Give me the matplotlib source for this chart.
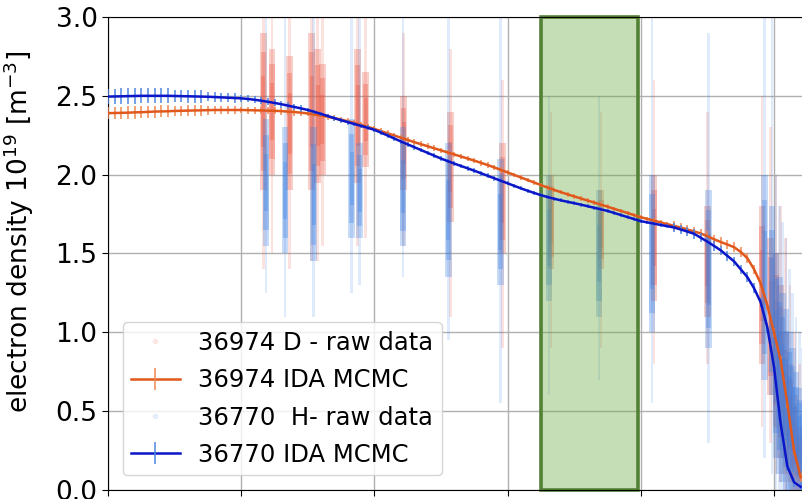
import matplotlib
matplotlib.use("Agg")
import matplotlib.pyplot as plt
from matplotlib.lines import Line2D
from matplotlib.patches import Rectangle
import numpy as np

# ---- fitted profiles (IDA MCMC) on the rho grid ----
rho = [0.00, 0.01, 0.02, 0.03, 0.04, 0.05, 0.06, 0.07, 0.08, 0.09,
       0.10, 0.11, 0.12, 0.13, 0.14, 0.15, 0.16, 0.17, 0.18, 0.19,
       0.20, 0.21, 0.22, 0.23, 0.24, 0.25, 0.26, 0.27, 0.28, 0.29,
       0.30, 0.31, 0.32, 0.33, 0.34, 0.35, 0.36, 0.37, 0.38, 0.39,
       0.40, 0.41, 0.42, 0.43, 0.44, 0.45, 0.46, 0.47, 0.48, 0.49,
       0.50, 0.51, 0.52, 0.53, 0.54, 0.55, 0.56, 0.57, 0.58, 0.59,
       0.60, 0.61, 0.62, 0.63, 0.64, 0.65, 0.66, 0.67, 0.68, 0.69,
       0.70, 0.71, 0.72, 0.73, 0.74, 0.75, 0.76, 0.77, 0.78, 0.79,
       0.80, 0.81, 0.82, 0.83, 0.84, 0.85, 0.86, 0.87, 0.88, 0.89,
       0.90, 0.91, 0.92, 0.93, 0.94, 0.95, 0.96, 0.97, 0.98, 0.99,
       1.00, 1.01, 1.02, 1.03, 1.04]

ne_36974 = [2.390, 2.391, 2.392, 2.393, 2.395, 2.396, 2.398, 2.400, 2.401, 2.402,
            2.404, 2.405, 2.406, 2.407, 2.408, 2.409, 2.410, 2.410, 2.410, 2.410,
            2.410, 2.409, 2.408, 2.407, 2.406, 2.405, 2.403, 2.400, 2.397, 2.393,
            2.388, 2.382, 2.375, 2.367, 2.358, 2.349, 2.339, 2.328, 2.316, 2.303,
            2.290, 2.276, 2.262, 2.248, 2.234, 2.220, 2.206, 2.193, 2.180, 2.167,
            2.154, 2.141, 2.128, 2.115, 2.102, 2.089, 2.075, 2.061, 2.046, 2.030,
            2.014, 1.998, 1.982, 1.966, 1.950, 1.934, 1.918, 1.903, 1.889, 1.875,
            1.862, 1.849, 1.836, 1.823, 1.810, 1.797, 1.783, 1.770, 1.757, 1.743,
            1.730, 1.719, 1.708, 1.697, 1.686, 1.675, 1.665, 1.652, 1.640, 1.627,
            1.610, 1.590, 1.573, 1.557, 1.540, 1.510, 1.470, 1.400, 1.310, 1.170,
            1.000, 0.820, 0.550, 0.250, 0.080]

err_36974 = [0.040, 0.040, 0.040, 0.040, 0.040, 0.038, 0.038, 0.038, 0.038, 0.038,
             0.033, 0.033, 0.033, 0.033, 0.033, 0.028, 0.028, 0.028, 0.028, 0.028,
             0.022, 0.022, 0.022, 0.022, 0.022, 0.022, 0.022, 0.022, 0.022, 0.022,
             0.018, 0.018, 0.018, 0.018, 0.018, 0.018, 0.018, 0.018, 0.018, 0.018,
             0.018, 0.018, 0.018, 0.018, 0.018, 0.018, 0.018, 0.018, 0.018, 0.018,
             0.018, 0.018, 0.018, 0.018, 0.018, 0.018, 0.018, 0.018, 0.018, 0.018,
             0.014, 0.014, 0.014, 0.014, 0.014, 0.014, 0.014, 0.014, 0.014, 0.014,
             0.014, 0.014, 0.014, 0.014, 0.014, 0.014, 0.014, 0.014, 0.014, 0.014,
             0.014, 0.014, 0.014, 0.014, 0.014, 0.030, 0.030, 0.030, 0.030, 0.030,
             0.030, 0.030, 0.030, 0.030, 0.030, 0.030, 0.030, 0.030, 0.030, 0.030,
             0.030, 0.030, 0.030, 0.030, 0.030]

ne_36770 = [2.495, 2.496, 2.497, 2.498, 2.499, 2.500, 2.500, 2.500, 2.500, 2.500,
            2.499, 2.498, 2.497, 2.496, 2.495, 2.494, 2.492, 2.490, 2.488, 2.486,
            2.484, 2.480, 2.475, 2.469, 2.462, 2.455, 2.447, 2.438, 2.429, 2.420,
            2.410, 2.398, 2.385, 2.372, 2.358, 2.345, 2.333, 2.321, 2.309, 2.297,
            2.284, 2.266, 2.248, 2.229, 2.210, 2.192, 2.174, 2.156, 2.138, 2.120,
            2.102, 2.086, 2.070, 2.055, 2.040, 2.025, 2.009, 1.993, 1.977, 1.961,
            1.945, 1.929, 1.913, 1.898, 1.884, 1.870, 1.858, 1.847, 1.837, 1.828,
            1.819, 1.810, 1.800, 1.790, 1.780, 1.770, 1.757, 1.744, 1.731, 1.718,
            1.705, 1.697, 1.689, 1.681, 1.673, 1.665, 1.652, 1.639, 1.625, 1.600,
            1.575, 1.548, 1.520, 1.485, 1.450, 1.400, 1.350, 1.280, 1.190, 1.030,
            0.780, 0.420, 0.150, 0.050, 0.020]

err_36770 = [0.050, 0.050, 0.050, 0.050, 0.050, 0.048, 0.048, 0.048, 0.048, 0.048,
             0.040, 0.040, 0.040, 0.040, 0.040, 0.030, 0.030, 0.030, 0.030, 0.030,
             0.022, 0.022, 0.022, 0.022, 0.022, 0.022, 0.022, 0.022, 0.022, 0.022,
             0.015, 0.015, 0.015, 0.015, 0.015, 0.015, 0.015, 0.015, 0.015, 0.015,
             0.015, 0.015, 0.015, 0.015, 0.015, 0.015, 0.015, 0.015, 0.015, 0.015,
             0.015, 0.015, 0.015, 0.015, 0.015, 0.015, 0.015, 0.015, 0.015, 0.015,
             0.012, 0.012, 0.012, 0.012, 0.012, 0.012, 0.012, 0.012, 0.012, 0.012,
             0.012, 0.012, 0.012, 0.012, 0.012, 0.012, 0.012, 0.012, 0.012, 0.012,
             0.012, 0.012, 0.012, 0.012, 0.012, 0.030, 0.030, 0.030, 0.030, 0.030,
             0.030, 0.030, 0.030, 0.030, 0.030, 0.030, 0.030, 0.030, 0.030, 0.030,
             0.030, 0.030, 0.030, 0.030, 0.030]

# ---- raw data per diagnostic channel: full spread and dense core ----
d_chan = [0.233, 0.246, 0.273, 0.306, 0.315, 0.322, 0.375, 0.387, 0.444,
          0.514, 0.592, 0.665, 0.740, 0.820, 0.900, 0.982, 0.995,
          1.003, 1.010, 1.017, 1.024, 1.031, 1.038]
d_lo = [1.40, 1.50, 1.40, 1.45, 1.45, 1.55, 1.55, 1.60, 1.55,
        1.10, 0.90, 0.90, 0.90, 0.80, 0.80, 0.40, 0.30,
        0.10, 0.05, 0.00, 0.00, 0.00, 0.00]
d_hi = [3.00, 3.00, 3.00, 3.00, 3.00, 3.00, 3.00, 3.00, 2.90,
        2.80, 2.60, 2.40, 2.40, 2.60, 2.40, 2.50, 2.30,
        2.00, 1.80, 1.60, 1.30, 1.00, 0.80]
d_core_lo = [1.90, 2.00, 1.90, 1.90, 1.95, 2.00, 1.95, 2.05, 1.90,
             1.70, 1.50, 1.40, 1.40, 1.20, 1.10, 0.80, 0.60,
             0.40, 0.20, 0.10, 0.05, 0.00, 0.00]
d_core_hi = [2.90, 2.80, 2.75, 2.90, 2.80, 2.70, 2.80, 2.65, 2.50,
             2.40, 2.20, 2.00, 1.90, 2.00, 1.80, 1.80, 1.60,
             1.50, 1.30, 1.00, 0.80, 0.60, 0.40]

h_chan = [0.237, 0.266, 0.309, 0.366, 0.378, 0.443, 0.511, 0.589,
          0.662, 0.737, 0.817, 0.902, 0.986, 0.997,
          1.003, 1.008, 1.013, 1.018, 1.023, 1.028, 1.033, 1.038, 1.043]
h_lo = [1.25, 1.10, 1.10, 1.25, 1.30, 1.35, 0.95, 0.55,
        0.60, 0.70, 0.55, 0.30, 0.20, 0.10,
        0.00, 0.00, 0.00, 0.00, 0.00, 0.00, 0.00, 0.00, 0.00]
h_hi = [3.00, 3.00, 3.00, 3.00, 3.00, 3.00, 3.00, 3.00,
        2.50, 2.50, 3.00, 2.90, 3.00, 3.00,
        2.00, 1.80, 1.70, 1.60, 1.40, 1.25, 1.10, 1.00, 0.90]
h_core_lo = [1.55, 1.50, 1.45, 1.60, 1.60, 1.55, 1.35, 1.30,
             1.20, 1.10, 1.00, 0.90, 0.70, 0.60,
             0.20, 0.10, 0.05, 0.00, 0.00, 0.00, 0.00, 0.00, 0.00]
h_core_hi = [2.35, 2.30, 2.30, 2.35, 2.20, 2.30, 2.20, 2.10,
             2.00, 1.90, 2.00, 1.90, 2.00, 1.80,
             1.50, 1.35, 1.25, 1.15, 1.00, 0.90, 0.75, 0.65, 0.55]

# highlighted rho interval
band_lo, band_hi = 0.650, 0.796

ORANGE = "#e0581c"
ORANGE_ERR = "#f0884f"
BLUE = "#0a16c8"
BLUE_ERR = "#4f86e0"
RED_RAW = "#e8503a"
BLUE_RAW = "#3a7ee0"

FS_AX = 19
FS_LEG = 17.5

fig = plt.figure(figsize=(8.03, 4.99), dpi=100)
ax = fig.add_axes([0.1345, 0.018, 0.8655, 0.948])


def draw_channels(xs, lo, hi, clo, chi, color):
    xs = np.asarray(xs)
    lo, hi, clo, chi = map(np.asarray, (lo, hi, clo, chi))
    # sparse outer spread
    ax.bar(xs, hi - lo, bottom=lo, width=0.004, color=color, alpha=0.16,
           linewidth=0, zorder=1)
    # dense core, drawn as nested layers so it tapers
    mid = (clo + chi) / 2.0
    half = (chi - clo) / 2.0
    for frac, w, a in ((1.0, 0.010, 0.28), (0.75, 0.008, 0.30),
                       (0.45, 0.006, 0.30)):
        ax.bar(xs, 2 * frac * half, bottom=mid - frac * half, width=w,
               color=color, alpha=a, linewidth=0, zorder=1)


draw_channels(d_chan, d_lo, d_hi, d_core_lo, d_core_hi, RED_RAW)
draw_channels(h_chan, h_lo, h_hi, h_core_lo, h_core_hi, BLUE_RAW)

# highlighted region
ax.axvspan(band_lo, band_hi, facecolor="#70ad47", alpha=0.4, linewidth=0,
           zorder=2)
ax.add_patch(Rectangle((band_lo, 0.0), band_hi - band_lo, 3.0,
                       fill=False, edgecolor="#538135", linewidth=2.6,
                       zorder=2.5, clip_on=False))

ax.errorbar(rho, ne_36974, yerr=err_36974, color=ORANGE, ecolor=ORANGE_ERR,
            elinewidth=1.1, linewidth=1.8, capsize=0, zorder=3)
ax.errorbar(rho, ne_36770, yerr=err_36770, color=BLUE, ecolor=BLUE_ERR,
            elinewidth=1.1, linewidth=1.8, capsize=0, zorder=3.1)

ax.set_xlim(0.0, 1.0435)
ax.set_ylim(0.0, 3.0)
ax.set_xticks([0.0, 0.2, 0.4, 0.6, 0.8, 1.0])
ax.set_xticklabels([])
ax.set_yticks([0.0, 0.5, 1.0, 1.5, 2.0, 2.5, 3.0])
ax.tick_params(axis="y", labelsize=FS_AX, length=4)
ax.tick_params(axis="x", length=4)
ax.grid(True, color="#b0b0b0", linewidth=1.0)
ax.set_axisbelow(True)
ax.spines["right"].set_visible(False)
ax.set_ylabel(r"electron density 10$^{19}$ [m$^{-3}$]", fontsize=FS_AX)
ax.yaxis.set_label_coords(-0.104, 0.545)

handles = [
    Line2D([], [], linestyle="none", marker="o", markersize=3,
           color=RED_RAW, alpha=0.1),
    Line2D([], [], color=ORANGE, linewidth=1.8, marker="|", markersize=16,
           markeredgecolor=ORANGE_ERR, markeredgewidth=1.1),
    Line2D([], [], linestyle="none", marker="o", markersize=3,
           color=BLUE_RAW, alpha=0.1),
    Line2D([], [], color=BLUE, linewidth=1.8, marker="|", markersize=16,
           markeredgecolor=BLUE_ERR, markeredgewidth=1.1),
]
labels = ["36974 D - raw data", "36974 IDA MCMC",
          "36770  H- raw data", "36770 IDA MCMC"]
leg = ax.legend(handles, labels, loc="lower left", fontsize=FS_LEG,
                bbox_to_anchor=(0.0, 0.0), borderaxespad=0.6,
                handlelength=2.0, handletextpad=0.75, labelspacing=0.55,
                borderpad=0.35, framealpha=0.8)
leg.set_zorder(5)

fig.savefig("out.png", dpi=100)
